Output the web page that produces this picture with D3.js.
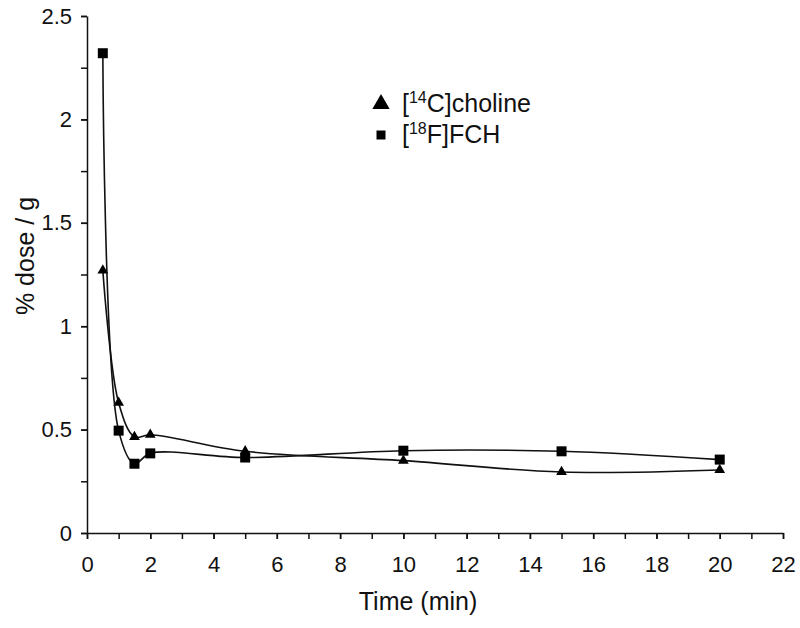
<!DOCTYPE html>
<html>
<head>
<meta charset="utf-8">
<script src="https://cdn.jsdelivr.net/npm/d3@7"></script>
<style>
  body { margin: 0; background: #fff; }
  text { font-family: Arial, "Liberation Sans", sans-serif; fill: #111; }
</style>
</head>
<body>
<div id="chart"></div>
<script>
var times = [0.5, 1, 1.5, 2, 5, 10, 15, 20];
var choline = [1.27, 0.63, 0.465, 0.475, 0.395, 0.35, 0.295, 0.305];
var fch = [2.32, 0.495, 0.335, 0.385, 0.365, 0.398, 0.395, 0.355];
var xTicks = [0, 2, 4, 6, 8, 10, 12, 14, 16, 18, 20, 22];
var yTicks = [0, 0.5, 1, 1.5, 2, 2.5];

(function () {
    var width = 800,
        height = 628;

    var svg = d3.select("#chart")
        .append("svg")
        .attr("width", width)
        .attr("height", height);

    var x = d3.scaleLinear().domain([0, 22]).range([87, 783]);
    var y = d3.scaleLinear().domain([0, 2.5]).range([533, 16]);

    function styleLines(g) {
        g.selectAll("line,path").attr("stroke", "#111").attr("stroke-width", 1.5);
    }

    // minor ticks first, then major ticks with labels
    svg.append("g")
        .attr("transform", "translate(0," + y(0) + ")")
        .call(d3.axisBottom(x).tickValues(d3.range(0, 23, 1)).tickSize(6).tickSizeOuter(0).tickFormat(""))
        .call(styleLines);

    svg.append("g")
        .attr("transform", "translate(" + x(0) + ",0)")
        .call(d3.axisLeft(y).tickValues(d3.range(0, 2.51, 0.25)).tickSize(6).tickSizeOuter(0).tickFormat(""))
        .call(styleLines);

    svg.append("g")
        .attr("transform", "translate(0," + y(0) + ")")
        .call(d3.axisBottom(x).tickValues(xTicks).tickSize(6).tickPadding(17))
        .call(function (g) {
            g.select(".domain").remove();
            styleLines(g);
            g.selectAll("text").attr("font-size", 22).attr("fill", "#222")
                .style("font-family", "Arial, 'Liberation Sans', sans-serif");
        });

    svg.append("g")
        .attr("transform", "translate(" + x(0) + ",0)")
        .call(d3.axisLeft(y).tickValues(yTicks).tickSize(6).tickPadding(9)
            .tickFormat(function (d) { return String(d); }))
        .call(function (g) {
            g.select(".domain").remove();
            styleLines(g);
            g.selectAll("text").attr("font-size", 22).attr("fill", "#222")
                .style("font-family", "Arial, 'Liberation Sans', sans-serif");
        });

    svg.append("text")
        .attr("x", 418)
        .attr("y", 610)
        .attr("text-anchor", "middle")
        .attr("font-size", 25)
        .text("Time (min)");

    svg.append("text")
        .attr("transform", "translate(34,256) rotate(-90)")
        .attr("text-anchor", "middle")
        .attr("font-size", 25)
        .text("% dose / g");

    var line = d3.line()
        .x(function (d) { return x(d[0]); })
        .y(function (d) { return y(d[1]); })
        .curve(d3.curveCatmullRom.alpha(0.5));

    var series = [
        { name: "choline", values: choline, marker: d3.symbolTriangle, size: 50 },
        { name: "fch", values: fch, marker: d3.symbolSquare, size: 100 }
    ];

    series.forEach(function (s) {
        var pts = times.map(function (t, i) { return [t, s.values[i]]; });

        svg.append("path")
            .datum(pts)
            .attr("fill", "none")
            .attr("stroke", "#111")
            .attr("stroke-width", 1.6)
            .attr("d", line);

        svg.selectAll(".pt-" + s.name)
            .data(pts)
            .enter().append("path")
            .attr("class", "pt-" + s.name)
            .attr("transform", function (d) { return "translate(" + x(d[0]) + "," + y(d[1]) + ")"; })
            .attr("d", d3.symbol().type(s.marker).size(s.size))
            .attr("fill", "#000");
    });

    // legend
    var legend = [
        { marker: d3.symbolTriangle, size: 130, sup: "14", rest: "C]choline", y: 104, base: 112 },
        { marker: d3.symbolSquare, size: 81, sup: "18", rest: "F]FCH", y: 135, base: 143 }
    ];

    legend.forEach(function (l) {
        svg.append("path")
            .attr("transform", "translate(381," + l.y + ")")
            .attr("d", d3.symbol().type(l.marker).size(l.size))
            .attr("fill", "#000");

        var t = svg.append("text")
            .attr("x", 402)
            .attr("y", l.base)
            .attr("font-size", 25);
        t.append("tspan").text("[");
        t.append("tspan").attr("font-size", 16).attr("dy", -9).text(l.sup);
        t.append("tspan").attr("dy", 9).text(l.rest);
    });
})();
</script>
</body>
</html>
